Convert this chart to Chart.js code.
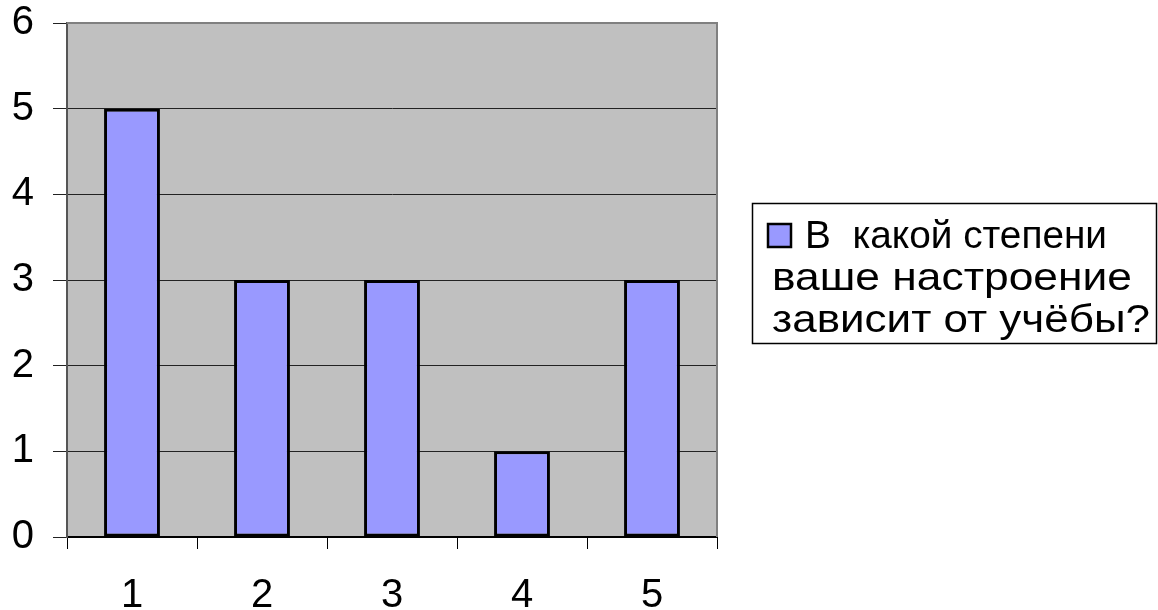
<!DOCTYPE html>
<html>
<head>
<meta charset="utf-8">
<script src="https://cdn.jsdelivr.net/npm/chart.js@4"></script>
<style>
  html, body { margin: 0; padding: 0; background: #fff; }
  #wrap { width: 1158px; height: 610px; position: relative; }
</style>
</head>
<body>
<div id="wrap"><canvas id="barChart" width="1158" height="610"></canvas></div>
<script>
const categories = ['1', '2', '3', '4', '5'];
const answers = [5, 3, 3, 1, 3];
const seriesLabel = ['В  какой степени', 'ваше настроение', 'зависит от учёбы?'];
const yMin = 0, yMax = 6, yStep = 1;

const FONT = '"Liberation Sans", Arial, sans-serif';

// gray plot background + gray top/right frame, like the old excel chart
const plotFrame = {
  id: 'plotFrame',
  beforeDraw(chart) {
    const { ctx, chartArea: a } = chart;
    ctx.save();
    ctx.fillStyle = '#c0c0c0';
    ctx.fillRect(a.left, a.top, a.right - a.left, a.bottom - a.top);
    ctx.restore();
  },
  afterDraw(chart) {
    const { ctx, chartArea: a } = chart;
    ctx.save();
    ctx.strokeStyle = '#808080';
    ctx.lineWidth = 2;
    ctx.beginPath();
    ctx.moveTo(a.left, a.top);
    ctx.lineTo(a.right, a.top);
    ctx.lineTo(a.right, a.bottom);
    ctx.stroke();
    ctx.restore();
  }
};

// boxed legend on the right with wrapped label
const boxLegend = {
  id: 'boxLegend',
  afterDraw(chart) {
    const { ctx } = chart;
    const ds = chart.data.datasets[0];
    const lines = ds.label;
    ctx.save();
    ctx.strokeStyle = '#000';
    ctx.lineWidth = 1.5;
    ctx.strokeRect(752.5, 203.5, 404, 140);

    ctx.fillStyle = ds.backgroundColor;
    ctx.fillRect(767, 223, 25, 25);
    ctx.strokeStyle = '#000';
    ctx.lineWidth = 2.5;
    ctx.strokeRect(768, 224, 23, 23);

    ctx.fillStyle = '#000';
    ctx.font = '39px ' + FONT;
    ctx.textBaseline = 'alphabetic';
    // old excel text is wider than liberation, stretch each row to its width
    const row = (txt, x, y, w) => {
      const sx = w / ctx.measureText(txt).width;
      ctx.save();
      ctx.translate(x, y);
      ctx.scale(sx, 1);
      ctx.fillText(txt, 0, 0);
      ctx.restore();
    };
    row(lines[0], 805, 248, 302);
    row(lines[1], 772, 290, 360);
    row(lines[2], 772, 332, 378);
    ctx.restore();
  }
};

new Chart(document.getElementById('barChart').getContext('2d'), {
  type: 'bar',
  data: {
    labels: categories,
    datasets: [{
      label: seriesLabel,
      data: answers,
      backgroundColor: '#9999ff',
      borderColor: '#000',
      borderWidth: 3,
      borderSkipped: false,
      categoryPercentage: 1,
      barPercentage: 0.43
    }]
  },
  options: {
    responsive: false,
    animation: false,
    layout: { padding: { top: 23, right: 441, bottom: 0, left: 0 } },
    plugins: {
      legend: { display: false },
      tooltip: { enabled: false }
    },
    scales: {
      x: {
        offset: true,
        afterFit(scale) {
          scale.height = 73;
          scale.paddingLeft = 0;
          scale.paddingRight = 0;
        },
        grid: {
          offset: true,
          drawOnChartArea: false,
          drawTicks: true,
          tickLength: 12,
          color: '#000'
        },
        border: { display: true, color: '#000', width: 2 },
        ticks: { color: '#000', font: { family: FONT, size: 40 }, padding: 23 }
      },
      y: {
        min: yMin,
        max: yMax,
        afterFit(scale) {
          scale.width = 67;
          scale.paddingTop = 0;
          scale.paddingBottom = 0;
        },
        grid: { color: '#222', lineWidth: 1, tickLength: 14, drawTicks: true },
        border: { display: true, color: '#555', width: 2 },
        ticks: {
          stepSize: yStep,
          color: '#000',
          font: { family: FONT, size: 40 },
          padding: 19
        }
      }
    }
  },
  plugins: [plotFrame, boxLegend]
});
</script>
</body>
</html>
